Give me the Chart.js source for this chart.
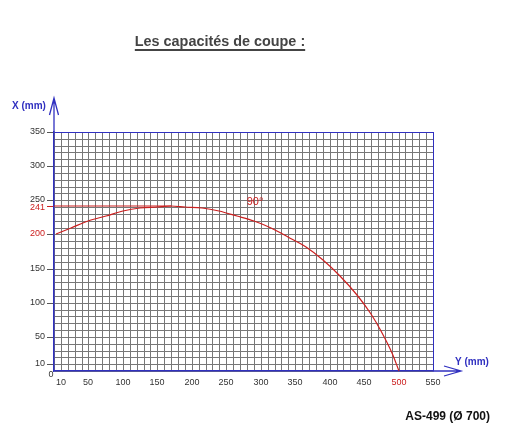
<!DOCTYPE html>
<html><head><meta charset="utf-8">
<script src="https://cdn.jsdelivr.net/npm/chart.js@4.4.1/dist/chart.umd.min.js"></script>
<style>
html,body{margin:0;padding:0;background:#fff;}
#wrap{position:relative;width:522px;height:431px;overflow:hidden;background:#fff;}
canvas{position:absolute;left:0;top:0;}
#title{position:absolute;left:0;width:440px;top:33px;text-align:center;font:bold 14.4px "Liberation Sans",Arial,sans-serif;color:#444;text-decoration:underline;text-decoration-thickness:2px;text-underline-offset:3px;}
#model{position:absolute;right:32px;top:409px;font:bold 12px "Liberation Sans",Arial,sans-serif;color:#111;}
</style></head><body>
<div id="wrap"><canvas id="c" width="522" height="431"></canvas>
<div id="title">Les capacités de coupe :</div>
<div id="model">AS-499 (Ø 700)</div></div>
<script>
// Cutting capacity curve at 90° (Y in mm horizontally, X in mm vertically)
const curveX = [3, 25, 50, 75, 100, 125, 150, 170, 190, 215, 240, 265, 290, 315, 340, 365, 390, 415, 440, 460, 475, 490, 500];
const curveY = [200, 209, 219.5, 227.5, 234, 238, 240.5, 241, 240.5, 238, 234, 227.5, 219.5, 209, 196.5, 181, 162, 139.5, 111.5, 84, 59, 27, 0];
const limitX = [0, 170];
const limitY = [241, 241];
const xTickLabels = [10, 50, 100, 150, 200, 250, 300, 350, 400, 450, 500, 550];
const yTickLabels = [10, 50, 100, 150, 200, 250, 300, 350];
const yLimitLabel = 241;
const xRedLabels = [500];
const yRedLabels = [200];
const angleText = '90°';
const anglePos = [292, 247];
const xMax = 550, yMax = 350, gridStep = 10;

const BLUE = '#3030c0', RED = '#cc2020', GRID = '#777', TXT = '#333';
const FONT = '"Liberation Sans", Arial, sans-serif';

const gridVals = (max) => { const a = []; for (let v = 0; v <= max; v += gridStep) a.push(v); return a; };

const decor = {
  id: 'decor',
  afterDraw(chart) {
    const ctx = chart.ctx, a = chart.chartArea, xs = chart.scales.x, ys = chart.scales.y;
    ctx.save();
    ctx.strokeStyle = BLUE; ctx.lineWidth = 1.3;
    ctx.beginPath();
    ctx.moveTo(a.left, a.top); ctx.lineTo(a.left, 99);
    ctx.moveTo(a.left - 4.5, 115); ctx.lineTo(a.left, 98); ctx.lineTo(a.left + 4.5, 115);
    ctx.moveTo(a.right, a.bottom); ctx.lineTo(460, a.bottom);
    ctx.moveTo(444, a.bottom - 5); ctx.lineTo(461, a.bottom); ctx.lineTo(444, a.bottom + 5);
    ctx.stroke();
    ctx.fillStyle = BLUE; ctx.font = 'bold 10px ' + FONT;
    ctx.textAlign = 'center'; ctx.textBaseline = 'middle';
    ctx.fillText('X (mm)', 29, 106);
    ctx.fillText('Y (mm)', 472, 362);
    ctx.fillStyle = TXT; ctx.font = '9px ' + FONT;
    ctx.fillText('0', xs.getPixelForValue(0) - 3, ys.getPixelForValue(0) + 4);
    // limit label (241), nudged down slightly as in the original
    ctx.fillStyle = RED; ctx.textAlign = 'right';
    ctx.fillText(String(yLimitLabel), a.left - 9, ys.getPixelForValue(yLimitLabel) + 2);
    ctx.textAlign = 'center'; ctx.font = '11px ' + FONT;
    ctx.fillText(angleText, xs.getPixelForValue(anglePos[0]), ys.getPixelForValue(anglePos[1]));
    ctx.restore();
  }
};

new Chart(document.getElementById('c'), {
  type: 'scatter',
  data: {
    datasets: [
      { data: curveX.map((x, i) => ({ x, y: curveY[i] })), showLine: true, borderColor: RED, borderWidth: 1.2,
        pointRadius: 0, cubicInterpolationMode: 'monotone', fill: false },
      { data: limitX.map((x, i) => ({ x, y: limitY[i] })), showLine: true, borderColor: RED, borderWidth: 1.2,
        pointRadius: 0, fill: false }
    ]
  },
  options: {
    responsive: false, animation: false, devicePixelRatio: 1,
    layout: { padding: { left: 0, top: 132, right: 89, bottom: 30 } },
    plugins: { legend: { display: false }, tooltip: { enabled: false }, title: { display: false } },
    scales: {
      x: {
        type: 'linear', min: 0, max: xMax, alignToPixels: true,
        afterBuildTicks: s => { s.ticks = gridVals(xMax).map(v => ({ value: v })); },
        afterFit: s => { s.height = 30; s.paddingLeft = 0; s.paddingRight = 0; },
        ticks: {
          autoSkip: false, maxRotation: 0, minRotation: 0, padding: 6,
          font: { size: 9, family: FONT },
          color: c => xRedLabels.includes(c.tick.value) ? RED : TXT,
          callback: v => xTickLabels.includes(v) ? String(v) : ''
        },
        grid: { drawTicks: false, lineWidth: 1,
          color: c => (c.tick && c.tick.value === xMax) ? BLUE : GRID },
        border: { color: BLUE, width: 1.5 }
      },
      y: {
        type: 'linear', min: 0, max: yMax, alignToPixels: true,
        afterBuildTicks: s => { s.ticks = gridVals(yMax).concat([yLimitLabel]).sort((p, q) => p - q).map(v => ({ value: v })); },
        afterFit: s => { s.width = 54; s.paddingTop = 0; s.paddingBottom = 0; },
        ticks: {
          autoSkip: false, padding: 2,
          font: { size: 9, family: FONT },
          color: c => yRedLabels.includes(c.tick.value) ? RED : TXT,
          callback: v => yTickLabels.includes(v) ? String(v) : ''
        },
        grid: { drawTicks: true, tickLength: 7, lineWidth: 1,
          color: c => !c.tick ? GRID : (c.tick.value === yMax ? BLUE : (c.tick.value === yLimitLabel ? 'rgba(0,0,0,0)' : GRID)),
          tickColor: c => !c.tick ? 'rgba(0,0,0,0)' : (c.tick.value === yLimitLabel ? RED : (yTickLabels.includes(c.tick.value) ? '#555' : 'rgba(0,0,0,0)'))
        },
        border: { color: BLUE, width: 1.5 }
      }
    }
  },
  plugins: [decor]
});
</script>
</body></html>
